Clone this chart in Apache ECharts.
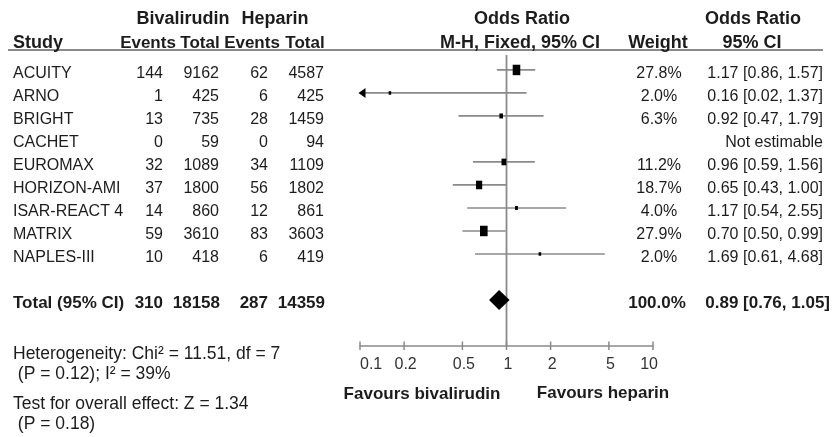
<!DOCTYPE html>
<html>
<head>
<meta charset="utf-8">
<script src="https://cdn.jsdelivr.net/npm/echarts@6/dist/echarts.min.js"></script>
<style>
  html, body { margin: 0; padding: 0; background: #fff; }
  #chart { width: 835px; height: 437px; }
</style>
</head>
<body>
<div id="chart"></div>
<script>
// Study-level data
const studies   = ['ACUITY', 'ARNO', 'BRIGHT', 'CACHET', 'EUROMAX', 'HORIZON-AMI', 'ISAR-REACT 4', 'MATRIX', 'NAPLES-III'];
const bivEvents = [144, 1, 13, 0, 32, 37, 14, 59, 10];
const bivTotal  = [9162, 425, 735, 59, 1089, 1800, 860, 3610, 418];
const hepEvents = [62, 6, 28, 0, 34, 56, 12, 83, 6];
const hepTotal  = [4587, 425, 1459, 94, 1109, 1802, 861, 3603, 419];
const weights   = [27.8, 2.0, 6.3, null, 11.2, 18.7, 4.0, 27.9, 2.0];
const oddsRatio = [1.17, 0.16, 0.92, null, 0.96, 0.65, 1.17, 0.70, 1.69];
const ciLower   = [0.86, 0.02, 0.47, null, 0.59, 0.43, 0.54, 0.50, 0.61];
const ciUpper   = [1.57, 1.37, 1.79, null, 1.56, 1.00, 2.55, 0.99, 4.68];

// Pooled (fixed-effect) result and totals
const pooledOR = 0.89, pooledLo = 0.76, pooledHi = 1.05, pooledWeight = 100.0;
const totalBivEvents = 310, totalBivN = 18158, totalHepEvents = 287, totalHepN = 14359;

// Heterogeneity and overall effect statistics
const chi2 = '11.51', hetDf = 7, hetP = '0.12', iSquared = 39;
const zValue = '1.34', zP = '0.18';

// Log-scale tick labels for the odds-ratio axis
const axisTicks = [0.1, 0.2, 0.5, 1, 2, 5, 10];

const FONT = '"Liberation Sans", Arial, Helvetica, sans-serif';
const INK = '#1c1c1c';
const GREY = '#8a8a8a';
const TOTAL_ROW = 10;
const Y_MIN = -0.65, Y_MAX = 12;
const X_MIN = axisTicks[0], X_MAX = axisTicks[axisTicks.length - 1];

function txt(x, y, text, opts) {
  return {
    type: 'text', x: x, y: y,
    style: Object.assign({
      text: text, fill: INK, fontFamily: FONT, fontSize: 16, fontWeight: 'normal',
      align: 'left', verticalAlign: 'middle'
    }, opts || {})
  };
}
const B18 = { fontSize: 18, fontWeight: 'bold' };
const B17 = { fontSize: 17, fontWeight: 'bold' };
const FOOT = { fontSize: 17.5 };
const fmt = v => v.toFixed(2);

// Table text for each study row and the total row
function renderTable(params, api) {
  const row = api.value(1);
  const y = api.coord([1, row])[1] + 3.5;
  const i = params.dataIndex;
  if (row === TOTAL_ROW) {
    return { type: 'group', children: [
      txt(13, y, 'Total (95% CI)', B17),
      txt(163, y, String(totalBivEvents), Object.assign({ align: 'right' }, B17)),
      txt(220, y, String(totalBivN), Object.assign({ align: 'right' }, B17)),
      txt(268, y, String(totalHepEvents), Object.assign({ align: 'right' }, B17)),
      txt(325, y, String(totalHepN), Object.assign({ align: 'right' }, B17)),
      txt(657, y, pooledWeight.toFixed(1) + '%', Object.assign({ align: 'center' }, B17)),
      txt(830, y, fmt(pooledOR) + ' [' + fmt(pooledLo) + ', ' + fmt(pooledHi) + ']', Object.assign({ align: 'right' }, B17))
    ]};
  }
  const children = [
    txt(13, y, studies[i]),
    txt(163, y, String(bivEvents[i]), { align: 'right' }),
    txt(219, y, String(bivTotal[i]), { align: 'right' }),
    txt(268, y, String(hepEvents[i]), { align: 'right' }),
    txt(324, y, String(hepTotal[i]), { align: 'right' })
  ];
  if (weights[i] != null) {
    children.push(txt(659, y, weights[i].toFixed(1) + '%', { align: 'center' }));
  }
  if (oddsRatio[i] != null) {
    children.push(txt(823, y, fmt(oddsRatio[i]) + ' [' + fmt(ciLower[i]) + ', ' + fmt(ciUpper[i]) + ']', { align: 'right' }));
  } else {
    children.push(txt(823, y, 'Not estimable', { align: 'right' }));
  }
  return { type: 'group', children: children };
}

// Confidence-interval line plus weight-sized square
function renderStudy(params, api) {
  const or = api.value(0), row = api.value(1), lo = api.value(2), hi = api.value(3), w = api.value(4);
  const y = api.coord([1, row])[1];
  const left = api.coord([Math.max(lo, X_MIN), row])[0];
  const right = api.coord([Math.min(hi, X_MAX), row])[0];
  const cx = api.coord([or, row])[0];
  const s = Math.max(3.2, Math.sqrt(w) * 1.8);
  const children = [
    { type: 'line', shape: { x1: left, y1: y, x2: right, y2: y }, style: { stroke: GREY, lineWidth: 1.7 } },
    { type: 'rect', shape: { x: cx - s * 0.4, y: y - s * 0.55, width: s * 0.8, height: s * 1.1 }, style: { fill: '#000' } }
  ];
  if (lo < X_MIN) {
    children.push({ type: 'polygon', shape: { points: [[left - 1.5, y], [left + 5.5, y - 5], [left + 5.5, y + 5]] }, style: { fill: '#000' } });
  }
  return { type: 'group', children: children };
}

// Pooled estimate diamond
function renderDiamond(params, api) {
  const row = api.value(1);
  const c = api.coord([api.value(0), row]);
  const l = api.coord([api.value(2), row])[0];
  const r = api.coord([api.value(3), row])[0];
  return { type: 'polygon', shape: { points: [[l, c[1]], [c[0], c[1] - 10], [r, c[1]], [c[0], c[1] + 10]] }, style: { fill: '#000' } };
}

// Line of no effect at OR = 1
function renderRefLine(params, api) {
  const top = api.coord([api.value(0), api.value(1)]);
  const bottom = api.coord([api.value(0), api.value(2)]);
  return { type: 'line', shape: { x1: top[0], y1: top[1], x2: bottom[0], y2: bottom[1] }, style: { stroke: GREY, lineWidth: 1.8 } };
}

// Axis ticks and labels at the chosen odds-ratio values
function renderTick(params, api) {
  const p = api.coord([api.value(0), api.value(1)]);
  const i = params.dataIndex;
  let align = 'center', dx = 1.5;
  if (i === 0) { align = 'left'; dx = 0; }
  if (i === axisTicks.length - 1) { align = 'right'; dx = 5; }
  return { type: 'group', children: [
    { type: 'line', shape: { x1: p[0], y1: p[1] - 4.5, x2: p[0], y2: p[1] + 4 }, style: { stroke: GREY, lineWidth: 1.5 } },
    txt(p[0] + dx, p[1] + 18.5, String(api.value(0)), { align: align, fill: '#333' })
  ]};
}

const forestData = [];
studies.forEach((s, i) => {
  if (oddsRatio[i] != null) forestData.push([oddsRatio[i], i, ciLower[i], ciUpper[i], weights[i]]);
});
const tableData = studies.map((s, i) => [1, i]).concat([[1, TOTAL_ROW]]);

const chart = echarts.init(document.getElementById('chart'), null, { renderer: 'canvas' });
chart.setOption({
  animation: false,
  backgroundColor: '#fff',
  grid: { left: 360, right: 182, top: 55, bottom: 91, containLabel: false },
  xAxis: {
    type: 'log', logBase: 10, min: X_MIN, max: X_MAX,
    axisLine: { show: true, onZero: false, lineStyle: { color: GREY, width: 1.6 } },
    axisTick: { show: false }, axisLabel: { show: false },
    splitLine: { show: false }, minorTick: { show: false }
  },
  yAxis: { type: 'value', min: Y_MIN, max: Y_MAX, inverse: true, show: false, splitLine: { show: false } },
  graphic: [
    { type: 'line', shape: { x1: 8, y1: 50, x2: 823, y2: 50 }, style: { stroke: GREY, lineWidth: 2 } },
    txt(183, 19, 'Bivalirudin', Object.assign({ align: 'center' }, B18)),
    txt(275, 19, 'Heparin', Object.assign({ align: 'center' }, B18)),
    txt(13, 43, 'Study', B18),
    txt(148, 43, 'Events', Object.assign({ align: 'center' }, B17)),
    txt(200, 43, 'Total', Object.assign({ align: 'center' }, B17)),
    txt(252, 43, 'Events', Object.assign({ align: 'center' }, B17)),
    txt(305, 43, 'Total', Object.assign({ align: 'center' }, B17)),
    txt(522, 19, 'Odds Ratio', Object.assign({ align: 'center' }, B18)),
    txt(520, 43, 'M-H, Fixed, 95% CI', Object.assign({ align: 'center' }, B18)),
    txt(658, 43, 'Weight', Object.assign({ align: 'center' }, B18)),
    txt(753, 19, 'Odds Ratio', Object.assign({ align: 'center' }, B18)),
    txt(752, 43, '95% CI', Object.assign({ align: 'center' }, B18)),
    txt(13, 354, 'Heterogeneity: Chi\u00B2 = ' + chi2 + ', df = ' + hetDf, FOOT),
    txt(13, 374, ' (P = ' + hetP + '); I\u00B2 = ' + iSquared + '%', FOOT),
    txt(13, 404, 'Test for overall effect: Z = ' + zValue, FOOT),
    txt(13, 424, ' (P = ' + zP + ')', FOOT),
    txt(422, 394, 'Favours bivalirudin', Object.assign({ align: 'center' }, B17)),
    txt(603, 393, 'Favours heparin', Object.assign({ align: 'center' }, B17))
  ],
  series: [
    { type: 'custom', name: 'refLine', clip: false, renderItem: renderRefLine, data: [[1, Y_MIN, Y_MAX]], encode: { x: 0, y: [1, 2] }, silent: true },
    { type: 'custom', name: 'ticks', clip: false, renderItem: renderTick, data: axisTicks.map(v => [v, Y_MAX]), encode: { x: 0, y: 1 }, silent: true },
    { type: 'custom', name: 'studies', clip: false, renderItem: renderStudy, data: forestData, encode: { x: [0, 2, 3], y: 1 }, silent: true },
    { type: 'custom', name: 'pooled', clip: false, renderItem: renderDiamond, data: [[pooledOR, TOTAL_ROW, pooledLo, pooledHi]], encode: { x: [0, 2, 3], y: 1 }, silent: true },
    { type: 'custom', name: 'table', clip: false, renderItem: renderTable, data: tableData, encode: { x: 0, y: 1 }, silent: true }
  ]
});
</script>
</body>
</html>
